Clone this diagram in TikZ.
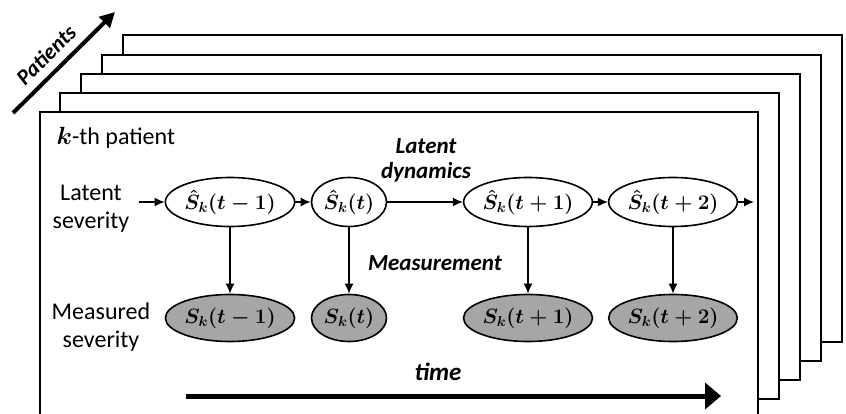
\documentclass[tikz,border=0pt]{standalone}
\usepackage{fontspec}
\setmainfont{Carlito}
\usepackage{amsmath}
\usetikzlibrary{shapes.geometric,arrows.meta}
\definecolor{measfill}{RGB}{166,166,166}
\tikzset{
  frame/.style={draw=black,line width=2.6pt,fill=white},
  latent/.style={ellipse,draw=black,line width=1.6pt,fill=white,inner sep=0pt,
    minimum height=49pt,font=\fontsize{21}{24}\selectfont\boldmath},
  measured/.style={latent,fill=measfill},
  flow/.style={line width=1.5pt,-{Latex[length=10pt,width=9pt]}},
  lbl/.style={font=\fontsize{24}{28}\selectfont,align=center},
  emph/.style={font=\fontsize{23}{25}\selectfont\bfseries\itshape,align=center}
}
\begin{document}
\begin{tikzpicture}[x=1pt,y=-1pt]
\useasboundingbox (0,0) rectangle (846,414);
\clip (0,0) rectangle (846,414);

% stack of patient sheets, back to front
\draw[frame] (123,35) rectangle (842,342);
\draw[frame] (102,55) rectangle (821,361);
\draw[frame] (81,74) rectangle (800,380);
\draw[frame] (60,93) rectangle (779,399);
\draw[frame] (40,112) rectangle (758,430);

% patients axis
\coordinate (pa0) at (13,113);
\coordinate (pa1) at (115,12);
\draw[line width=4pt,-{Triangle[length=15pt,width=15pt]}] (pa0) -- (pa1);
\node[rotate=45,font=\fontsize{22}{24}\selectfont\bfseries\itshape] (pat) at (46,55) {Patients};

\node[lbl,anchor=west] (kth) at (53,138) {$\boldsymbol{k}$-th patient};

% row labels
\node[lbl] (lsev) at (91,209) {Latent\\severity};
\node[lbl] (msev) at (101,327) {Measured\\severity};

% latent states
\node[latent,minimum width=126pt] (l1) at (230,202) {$\hat{S}_k(t-1)$};
\node[latent,minimum width=75pt]  (l2) at (349,202) {$\hat{S}_k(t)$};
\node[latent,minimum width=127pt] (l3) at (528,202) {$\hat{S}_k(t+1)$};
\node[latent,minimum width=127pt] (l4) at (673,202) {$\hat{S}_k(t+2)$};

% measurements
\node[measured,minimum width=126pt,minimum height=47pt] (m1) at (230,318) {$S_k(t-1)$};
\node[measured,minimum width=75pt,minimum height=47pt]  (m2) at (349,318) {$S_k(t)$};
\node[measured,minimum width=129pt,minimum height=47pt] (m3) at (528,318) {$S_k(t+1)$};
\node[measured,minimum width=127pt,minimum height=47pt] (m4) at (673,318) {$S_k(t+2)$};

% latent dynamics
\coordinate (in) at (139,202);
\coordinate (out) at (754,202);
\draw[flow] (in) -- (l1);
\draw[flow] (l1) -- (l2);
\draw[flow] (l2) -- (l3);
\draw[flow] (l3) -- (l4);
\draw[flow] (l4) -- (out);

% measurement links
\draw[flow] (l1) -- (m1);
\draw[flow] (l2) -- (m2);
\draw[flow] (l3) -- (m3);
\draw[flow] (l4) -- (m4);

\node[emph] (dyn) at (426,160) {Latent\\dynamics};
\node[emph] (meas) at (435,263) {Measurement};

% time axis
\coordinate (t0) at (186,396);
\coordinate (t1) at (721,396);
\draw[line width=5pt,-{Triangle[length=16pt,width=26pt]}] (t0) -- (t1);
\node[font=\fontsize{25}{28}\selectfont\bfseries\itshape] (time) at (438,372) {time};
\end{tikzpicture}
\end{document}
